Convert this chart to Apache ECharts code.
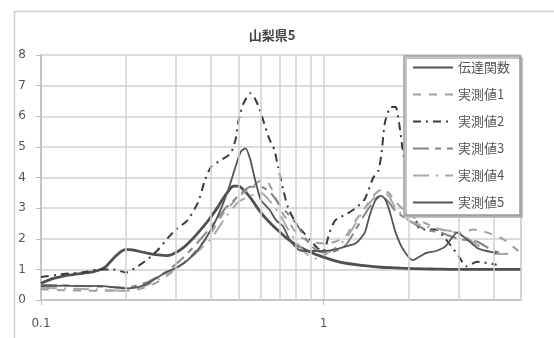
<!DOCTYPE html>
<html>
<head>
<meta charset="utf-8">
<script src="https://cdn.jsdelivr.net/npm/echarts@6/dist/echarts.min.js"></script>
<style>html,body{margin:0;padding:0;background:#fff}#c{width:554px;height:338px}</style>
</head>
<body>
<div id="c"></div>
<script>
var titleText = '山梨県5';
var seriesNames = ['伝達関数','実測値1','実測値2','実測値3','実測値4','実測値5'];
var xTickLabels = ['0.1','1'];
var minorGridFreqs = [0.2,0.3,0.4,0.5,0.6,0.7,0.8,0.9,2,3,4,5];

var tfFreq = [0.1,0.11,0.12,0.13,0.14,0.15,0.16,0.17,0.18,0.19,0.2,0.21,0.22,0.24,0.26,0.28,0.3,0.32,0.34,0.36,0.38,0.4,0.42,0.44,0.46,0.48,0.5,0.52,0.55,0.6,0.65,0.7,0.75,0.8,0.9,1.0,1.1,1.2,1.4,1.6,1.8,2,2.5,3,4,5];
var tfVal  = [0.55,0.7,0.78,0.83,0.87,0.91,0.97,1.1,1.35,1.55,1.65,1.64,1.6,1.52,1.47,1.45,1.55,1.72,1.95,2.2,2.45,2.72,3.0,3.3,3.55,3.72,3.72,3.6,3.35,2.85,2.5,2.22,1.98,1.8,1.56,1.4,1.28,1.2,1.12,1.07,1.05,1.03,1.01,1.0,1.0,1.0];

var m1Freq = [0.1,0.12,0.15,0.18,0.2,0.22,0.24,0.26,0.28,0.3,0.33,0.36,0.4,0.44,0.48,0.52,0.56,0.6,0.64,0.68,0.72,0.76,0.8,0.85,0.9,1.0,1.1,1.2,1.3,1.4,1.5,1.6,1.7,1.8,2.0,2.3,2.6,3.0,3.4,3.8,4.3,4.9];
var m1Val  = [0.35,0.32,0.3,0.3,0.3,0.35,0.45,0.6,0.8,1.0,1.3,1.7,2.2,2.8,3.2,3.5,3.7,3.9,3.8,3.3,2.8,2.5,2.2,2.0,1.9,1.85,1.9,2.1,2.6,3.0,3.4,3.6,3.5,3.2,2.8,2.5,2.3,2.2,2.3,2.2,2.0,1.6];

var m2Freq = [0.1,0.12,0.14,0.16,0.18,0.2,0.22,0.24,0.26,0.28,0.3,0.33,0.36,0.38,0.4,0.44,0.47,0.49,0.5,0.52,0.55,0.57,0.59,0.61,0.64,0.67,0.69,0.72,0.75,0.8,0.85,0.9,0.95,1.0,1.05,1.1,1.2,1.3,1.4,1.5,1.56,1.6,1.65,1.73,1.8,1.85,1.9,2.0,2.2,2.5,2.7,3.0,3.2,3.5,4.1];
var m2Val  = [0.75,0.85,0.9,1.0,1.0,0.9,1.1,1.35,1.65,2.0,2.3,2.6,3.2,3.9,4.35,4.6,4.8,5.3,5.85,6.4,6.75,6.6,6.3,5.9,5.3,4.9,4.35,3.6,3.0,2.5,2.2,1.95,1.7,1.6,2.2,2.6,2.8,3.0,3.3,4.0,4.2,4.7,5.8,6.3,6.3,5.8,5.0,3.8,2.3,2.3,2.0,1.45,1.1,1.25,1.15];

var m3Freq = [0.1,0.15,0.2,0.24,0.28,0.32,0.36,0.4,0.45,0.5,0.55,0.6,0.65,0.7,0.75,0.8,0.85,0.9,0.95,1.0,1.1,1.2,1.3,1.4,1.5,1.6,1.7,1.8,2.0,2.3,2.6,3.0,3.5,4.0,4.5];
var m3Val  = [0.5,0.45,0.4,0.6,0.95,1.4,1.9,2.4,3.0,3.4,3.7,3.7,3.5,3.1,2.8,2.5,2.1,1.8,1.6,1.55,1.6,1.8,2.3,2.8,3.2,3.4,3.2,2.9,2.6,2.3,2.2,2.0,1.9,1.6,1.5];

var m4Freq = [0.1,0.15,0.2,0.24,0.28,0.32,0.36,0.4,0.45,0.5,0.55,0.6,0.65,0.7,0.75,0.8,0.85,0.9,0.95,1.0,1.1,1.2,1.3,1.4,1.5,1.6,1.7,1.8,2.0,2.3,2.6,3.0,3.5,4.0,4.5];
var m4Val  = [0.4,0.35,0.3,0.5,0.85,1.2,1.6,2.0,2.7,3.2,3.4,3.5,3.2,2.8,2.3,1.9,1.6,1.4,1.35,1.45,1.7,2.0,2.5,3.0,3.3,3.6,3.4,3.0,2.6,2.4,2.3,2.2,1.8,1.5,1.5];

var m5Freq = [0.1,0.12,0.14,0.16,0.18,0.2,0.22,0.24,0.26,0.28,0.3,0.33,0.36,0.4,0.43,0.46,0.49,0.51,0.53,0.55,0.57,0.6,0.645,0.68,0.72,0.76,0.82,0.9,1.0,1.1,1.2,1.3,1.4,1.45,1.5,1.55,1.6,1.65,1.7,1.75,1.8,1.9,2.07,2.3,2.5,2.7,2.97,3.2,3.5,3.67,4.1];
var m5Val  = [0.45,0.47,0.45,0.46,0.42,0.38,0.42,0.55,0.75,0.92,1.05,1.3,1.65,2.3,2.9,3.6,4.4,4.85,4.95,4.6,4.0,3.27,2.94,2.6,2.4,1.96,1.63,1.6,1.6,1.65,1.75,1.85,2.2,2.7,3.1,3.35,3.4,3.3,3.0,2.6,2.2,1.7,1.3,1.53,1.6,1.75,2.2,2.0,1.7,1.63,1.53];

function pairs(f, v){ return f.map(function(x,i){ return [x, v[i]]; }); }

var styles = [
  {c:'#505050', w:2.8, t:'solid', s:0.4},
  {c:'#a0a0a0', w:2, t:[8,8], s:0.2},
  {c:'#3a3a3a', w:2, t:[8,5,2,5], s:0.2},
  {c:'#858585', w:2, t:[16,6,6,6], s:0.2},
  {c:'#a8a8a8', w:2, t:[16,7,2,7], s:0.2},
  {c:'#555555', w:1.8, t:'solid', s:0.2}
];
var datas = [pairs(tfFreq,tfVal), pairs(m1Freq,m1Val), pairs(m2Freq,m2Val), pairs(m3Freq,m3Val), pairs(m4Freq,m4Val), pairs(m5Freq,m5Val)];

var series = [{
  name: '_grid', type: 'line', data: [], silent: true, z: 1,
  markLine: {
    silent: true, symbol: ['none','none'], label: {show: false},
    lineStyle: {color: '#d0d0d0', width: 1.5, type: 'solid'},
    animation: false,
    data: minorGridFreqs.map(function(f){ return {xAxis: f}; })
  }
}];
seriesNames.forEach(function(n, i){
  series.push({
    name: n, type: 'line', data: datas[i], symbol: 'none', smooth: styles[i].s, z: 3,
    lineStyle: {color: styles[i].c, width: styles[i].w, type: styles[i].t},
    itemStyle: {color: styles[i].c}
  });
});

var chart = echarts.init(document.getElementById('c'), null, {renderer: 'canvas'});
chart.setOption({
  animation: false,
  backgroundColor: '#fff',
  title: {
    text: titleText, left: 267, top: 24, textAlign: 'center',
    textStyle: {fontSize: 13, fontWeight: 'bold', color: '#444', fontFamily: 'Noto Sans CJK JP'}
  },
  graphic: [{
    type: 'rect', left: 12, top: 9, z: 0,
    shape: {x: 0, y: 0, width: 600, height: 400},
    style: {fill: 'none', stroke: '#cfcfcf', lineWidth: 1.5}
  }],
  grid: {left: 41, right: 33, top: 55, bottom: 38},
  legend: {
    data: seriesNames, orient: 'vertical', left: 404, top: 56,
    padding: [5, 10, 6, 8], itemWidth: 40, itemHeight: 14, itemGap: 14,
    backgroundColor: '#fff', borderColor: '#9a9a9a', borderWidth: 1.5,
    shadowColor: '#b0b0b0', shadowBlur: 0, shadowOffsetX: 2, shadowOffsetY: 2,
    itemStyle: {color: 'rgba(0,0,0,0)', borderWidth: 0, opacity: 0},
    textStyle: {fontSize: 13, color: '#555', fontFamily: 'Noto Sans CJK JP'},
    z: 10
  },
  xAxis: {
    type: 'log', logBase: 10, min: 0.1, max: 5,
    axisLine: {show: true, lineStyle: {color: '#bdbdbd', width: 1.5}},
    axisTick: {show: true, length: 5, lineStyle: {color: '#bdbdbd'}},
    axisLabel: {
      margin: 18, fontSize: 12, color: '#555', fontFamily: 'DejaVu Sans',
      showMaxLabel: false,
      formatter: function(v){
        if (Math.abs(v - 0.1) < 1e-9) return xTickLabels[0];
        if (Math.abs(v - 1) < 1e-9) return xTickLabels[1];
        return '';
      }
    },
    splitLine: {show: true, lineStyle: {color: '#d0d0d0', width: 1.5}}
  },
  yAxis: {
    type: 'value', min: 0, max: 8, interval: 1,
    axisLine: {show: true, lineStyle: {color: '#bdbdbd', width: 1.5}},
    axisTick: {show: true, length: 5, lineStyle: {color: '#bdbdbd'}},
    axisLabel: {margin: 15, fontSize: 12, color: '#555', fontFamily: 'DejaVu Sans'},
    splitLine: {show: true, lineStyle: {color: '#d0d0d0', width: 1.5}}
  },
  series: series
});
</script>
</body>
</html>
